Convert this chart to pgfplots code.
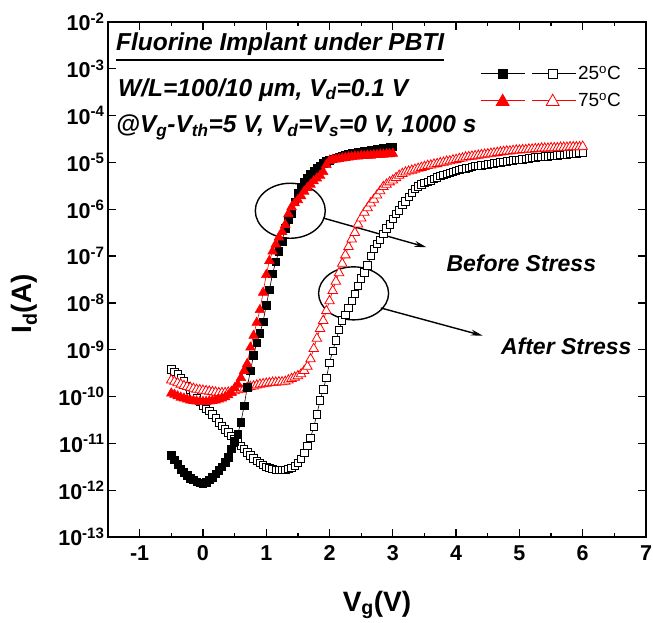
\documentclass[border=0pt]{standalone}
\usepackage{fontspec}
\setmainfont{Liberation Sans}
\usepackage{pgfplots}
\pgfplotsset{compat=1.18}
\usepackage{pgfplotstable}
\usetikzlibrary{arrows.meta}

% Before stress, 25 C (filled squares)
\pgfplotstableread{
x y
-0.5 5.62e-12
-0.45 4.47e-12
-0.4 3.55e-12
-0.35 2.82e-12
-0.3 2.40e-12
-0.25 2.09e-12
-0.2 1.82e-12
-0.15 1.66e-12
-0.1 1.51e-12
-0.05 1.45e-12
0 1.41e-12
0.05 1.48e-12
0.1 1.66e-12
0.15 1.91e-12
0.2 2.24e-12
0.25 2.63e-12
0.3 3.16e-12
0.35 3.98e-12
0.4 5.01e-12
0.45 7.59e-12
0.5 1.12e-11
0.55 1.58e-11
0.6 2.82e-11
0.65 6.31e-11
0.7 1.58e-10
0.75 3.55e-10
0.8 7.59e-10
0.85 1.41e-9
0.9 2.24e-9
0.95 3.98e-9
1.0 8.91e-9
1.05 1.91e-8
1.1 4.17e-8
1.15 7.59e-8
1.2 1.26e-7
1.25 2.09e-7
1.3 3.98e-7
1.35 6.03e-7
1.4 7.94e-7
1.45 1.45e-6
1.5 2.20e-6
1.55 3.00e-6
1.6 3.80e-6
1.65 4.68e-6
1.7 5.62e-6
1.75 6.61e-6
1.8 7.59e-6
1.85 8.51e-6
1.9 9.55e-6
1.95 1.05e-5
2.0 1.12e-5
2.05 1.20e-5
2.1 1.26e-5
2.15 1.32e-5
2.2 1.38e-5
2.25 1.45e-5
2.3 1.51e-5
2.35 1.55e-5
2.4 1.58e-5
2.45 1.66e-5
2.5 1.70e-5
2.55 1.74e-5
2.6 1.78e-5
2.65 1.82e-5
2.7 1.86e-5
2.75 1.91e-5
2.8 1.95e-5
2.85 2.00e-5
2.9 2.04e-5
2.95 2.09e-5
3.0 2.14e-5
}\dataA

% Before stress, 75 C (filled triangles)
\pgfplotstableread{
x y
-0.5 1.17e-10
-0.45 1.10e-10
-0.4 1.02e-10
-0.35 9.55e-11
-0.3 9.12e-11
-0.25 8.71e-11
-0.2 8.32e-11
-0.15 8.13e-11
-0.1 7.94e-11
-0.05 7.76e-11
0 7.76e-11
0.05 7.76e-11
0.1 7.94e-11
0.15 8.13e-11
0.2 8.32e-11
0.25 8.71e-11
0.3 9.12e-11
0.35 9.77e-11
0.4 1.07e-10
0.45 1.20e-10
0.5 1.51e-10
0.55 1.82e-10
0.6 2.51e-10
0.65 3.55e-10
0.7 5.01e-10
0.75 1.12e-9
0.8 2.00e-9
0.85 3.80e-9
0.9 7.08e-9
0.95 1.66e-8
1.0 3.98e-8
1.05 7.94e-8
1.1 1.26e-7
1.15 1.78e-7
1.2 2.51e-7
1.25 3.31e-7
1.3 4.68e-7
1.35 7.94e-7
1.4 1.12e-6
1.45 1.35e-6
1.5 1.58e-6
1.55 1.91e-6
1.6 2.40e-6
1.65 2.88e-6
1.7 3.39e-6
1.75 3.98e-6
1.8 4.57e-6
1.85 5.25e-6
1.9 6.31e-6
1.95 8.91e-6
2.0 1.10e-5
2.05 1.15e-5
2.1 1.17e-5
2.15 1.20e-5
2.2 1.23e-5
2.25 1.26e-5
2.3 1.29e-5
2.35 1.32e-5
2.4 1.35e-5
2.45 1.35e-5
2.5 1.38e-5
2.55 1.38e-5
2.6 1.41e-5
2.65 1.41e-5
2.7 1.45e-5
2.75 1.45e-5
2.8 1.48e-5
2.85 1.48e-5
2.9 1.51e-5
2.95 1.51e-5
3.0 1.55e-5
}\dataB

% After stress, 25 C (open squares)
\pgfplotstableread{
x y
-0.5 3.80e-10
-0.45 3.39e-10
-0.4 2.95e-10
-0.35 2.51e-10
-0.3 2.09e-10
-0.25 1.70e-10
-0.2 1.38e-10
-0.15 1.12e-10
-0.1 9.12e-11
-0.05 7.59e-11
0 6.31e-11
0.05 5.50e-11
0.1 4.90e-11
0.15 4.17e-11
0.2 3.47e-11
0.25 2.82e-11
0.3 2.34e-11
0.35 2.00e-11
0.4 1.70e-11
0.45 1.45e-11
0.5 1.23e-11
0.55 1.05e-11
0.6 8.91e-12
0.65 7.59e-12
0.7 6.46e-12
0.75 5.50e-12
0.8 4.79e-12
0.85 4.27e-12
0.9 3.80e-12
0.95 3.47e-12
1.0 3.16e-12
1.05 2.95e-12
1.1 2.82e-12
1.15 2.69e-12
1.2 2.69e-12
1.25 2.69e-12
1.3 2.75e-12
1.35 2.82e-12
1.4 3.02e-12
1.45 3.31e-12
1.5 3.80e-12
1.55 4.68e-12
1.6 6.31e-12
1.65 8.91e-12
1.7 1.32e-11
1.75 2.24e-11
1.8 4.17e-11
1.85 8.32e-11
1.9 1.41e-10
1.95 2.51e-10
2.0 5.25e-10
2.05 9.55e-10
2.1 1.58e-9
2.15 2.63e-9
2.2 4.27e-9
2.25 5.50e-9
2.3 7.94e-9
2.35 1.10e-8
2.4 1.58e-8
2.45 2.34e-8
2.5 3.31e-8
2.55 4.47e-8
2.6 6.31e-8
2.65 1.00e-7
2.7 1.41e-7
2.75 1.82e-7
2.8 2.19e-7
2.85 3.02e-7
2.9 3.89e-7
2.95 4.79e-7
3.0 6.31e-7
3.05 7.94e-7
3.1 9.55e-7
3.15 1.23e-6
3.2 1.48e-6
3.25 1.82e-6
3.3 2.24e-6
3.35 2.69e-6
3.4 3.09e-6
3.45 3.39e-6
3.5 3.63e-6
3.55 3.89e-6
3.6 4.17e-6
3.65 4.47e-6
3.7 4.79e-6
3.75 5.13e-6
3.8 5.50e-6
3.85 5.75e-6
3.9 6.03e-6
3.95 6.31e-6
4.0 6.61e-6
4.05 6.92e-6
4.1 7.24e-6
4.15 7.41e-6
4.2 7.76e-6
4.25 7.94e-6
4.3 8.32e-6
4.35 8.51e-6
4.4 8.71e-6
4.45 8.91e-6
4.5 9.12e-6
4.55 9.33e-6
4.6 9.55e-6
4.65 9.77e-6
4.7 1.00e-5
4.75 1.02e-5
4.8 1.05e-5
4.85 1.07e-5
4.9 1.10e-5
4.95 1.12e-5
5.0 1.15e-5
5.05 1.17e-5
5.1 1.20e-5
5.15 1.23e-5
5.2 1.26e-5
5.25 1.29e-5
5.3 1.32e-5
5.35 1.32e-5
5.4 1.35e-5
5.45 1.35e-5
5.5 1.38e-5
5.55 1.38e-5
5.6 1.41e-5
5.65 1.45e-5
5.7 1.45e-5
5.75 1.48e-5
5.8 1.51e-5
5.85 1.51e-5
5.9 1.55e-5
5.95 1.58e-5
6.0 1.58e-5
}\dataC

% After stress, 75 C (open triangles)
\pgfplotstableread{
x y
-0.5 2.24e-10
-0.45 2.09e-10
-0.4 1.95e-10
-0.35 1.82e-10
-0.3 1.70e-10
-0.25 1.62e-10
-0.2 1.55e-10
-0.15 1.48e-10
-0.1 1.41e-10
-0.05 1.38e-10
0 1.35e-10
0.05 1.32e-10
0.1 1.29e-10
0.15 1.26e-10
0.2 1.23e-10
0.25 1.20e-10
0.3 1.20e-10
0.35 1.20e-10
0.4 1.23e-10
0.45 1.26e-10
0.5 1.32e-10
0.55 1.38e-10
0.6 1.41e-10
0.65 1.48e-10
0.7 1.55e-10
0.75 1.62e-10
0.8 1.66e-10
0.85 1.74e-10
0.9 1.82e-10
0.95 1.86e-10
1.0 1.91e-10
1.05 1.95e-10
1.1 2.00e-10
1.15 2.00e-10
1.2 2.04e-10
1.25 2.04e-10
1.3 2.09e-10
1.35 2.24e-10
1.4 2.40e-10
1.45 2.57e-10
1.5 2.75e-10
1.55 3.02e-10
1.6 3.55e-10
1.65 4.37e-10
1.7 6.31e-10
1.75 1.05e-9
1.8 1.74e-9
1.85 2.82e-9
1.9 4.17e-9
1.95 6.76e-9
2.0 1.10e-8
2.05 1.82e-8
2.1 2.88e-8
2.15 4.37e-8
2.2 6.92e-8
2.25 1.05e-7
2.3 1.58e-7
2.35 2.29e-7
2.4 3.16e-7
2.45 4.79e-7
2.5 6.46e-7
2.55 8.51e-7
2.6 1.07e-6
2.65 1.35e-6
2.7 1.62e-6
2.75 2.00e-6
2.8 2.45e-6
2.85 3.02e-6
2.9 3.39e-6
2.95 3.80e-6
3.0 4.17e-6
3.05 4.68e-6
3.1 5.25e-6
3.15 5.75e-6
3.2 6.17e-6
3.25 6.46e-6
3.3 6.76e-6
3.35 7.08e-6
3.4 7.41e-6
3.45 7.76e-6
3.5 8.13e-6
3.55 8.51e-6
3.6 8.71e-6
3.65 9.12e-6
3.7 9.33e-6
3.75 9.77e-6
3.8 1.00e-5
3.85 1.05e-5
3.9 1.07e-5
3.95 1.12e-5
4.0 1.15e-5
4.05 1.20e-5
4.1 1.23e-5
4.15 1.29e-5
4.2 1.32e-5
4.25 1.35e-5
4.3 1.38e-5
4.35 1.41e-5
4.4 1.45e-5
4.45 1.48e-5
4.5 1.51e-5
4.55 1.55e-5
4.6 1.58e-5
4.65 1.62e-5
4.7 1.66e-5
4.75 1.70e-5
4.8 1.74e-5
4.85 1.74e-5
4.9 1.78e-5
4.95 1.82e-5
5.0 1.82e-5
5.05 1.86e-5
5.1 1.86e-5
5.15 1.91e-5
5.2 1.91e-5
5.25 1.95e-5
5.3 1.95e-5
5.35 2.00e-5
5.4 2.00e-5
5.45 2.00e-5
5.5 2.04e-5
5.55 2.04e-5
5.6 2.04e-5
5.65 2.09e-5
5.7 2.09e-5
5.75 2.09e-5
5.8 2.14e-5
5.85 2.14e-5
5.9 2.14e-5
5.95 2.14e-5
6.0 2.19e-5
}\dataD

\begin{document}
\begin{tikzpicture}
\begin{axis}[
  width=538pt, height=515pt, scale only axis,
  ymode=log,
  xmin=-1.5, xmax=7, ymin=1e-13, ymax=1e-2,
  xtick={-1,0,1,2,3,4,5,6,7},
  xticklabels={-1,0,1,2,3,4,5,6,7},
  minor x tick num=1,
  ytick={1e-13,1e-12,1e-11,1e-10,1e-9,1e-8,1e-7,1e-6,1e-5,1e-4,1e-3,1e-2},
  yticklabels={10\textsuperscript{-13},10\textsuperscript{-12},10\textsuperscript{-11},10\textsuperscript{-10},10\textsuperscript{-9},10\textsuperscript{-8},10\textsuperscript{-7},10\textsuperscript{-6},10\textsuperscript{-5},10\textsuperscript{-4},10\textsuperscript{-3},10\textsuperscript{-2}},
  yminorticks=false,
  tick align=inside,
  major tick length=8pt, minor tick length=4.5pt,
  every tick/.style={black, line width=1.3pt},
  axis line style={line width=1.6pt},
  tick label style={font=\fontsize{21.5}{25}\selectfont\bfseries},
  xticklabel style={yshift=-5pt},
  xlabel={V\textsubscript{g}(V)},
  ylabel={I\textsubscript{d}(A)},
  label style={font=\fontsize{28}{30}\selectfont\bfseries},
  xlabel style={at={(axis description cs:0.5,-0.1437)}, anchor=base},
  ylabel style={at={(axis description cs:-0.156,0.453)}, anchor=center},
  clip=false,
  legend cell align=left,
  legend style={at={(rel axis cs:0.686,0.922)}, anchor=north west, draw=none, fill=none,
    font=\fontsize{19}{22}\selectfont, row sep=8pt},
]
\coordinate (bl) at (rel axis cs:0,0);
\coordinate (tr) at (rel axis cs:1,1);

\addlegendimage{legend image code/.code={
  \draw[black, line width=0.8pt] (0pt,0pt) -- (44pt,0pt);
  \draw[black, line width=0.8pt] (51pt,0pt) -- (95pt,0pt);
  \draw[black, fill=black, line width=0.8pt] (17.4pt,-4.6pt) rectangle (26.6pt,4.6pt);
  \draw[black, fill=white, line width=0.8pt] (67.4pt,-4.6pt) rectangle (76.6pt,4.6pt);
}}
\addlegendentry{25\textsuperscript{o}C}
\addlegendimage{legend image code/.code={
  \draw[red, line width=0.8pt] (0pt,0pt) -- (44pt,0pt);
  \draw[red, line width=0.8pt] (51pt,0pt) -- (95pt,0pt);
  \draw[red, fill=red, line width=0.8pt] (22pt,6.5pt) -- (15.5pt,-4.8pt) -- (28.5pt,-4.8pt) -- cycle;
  \draw[red, fill=white, line width=0.8pt] (72pt,6.5pt) -- (65.5pt,-4.8pt) -- (78.5pt,-4.8pt) -- cycle;
}}
\addlegendentry{75\textsuperscript{o}C}

\addplot[black, line width=0.6pt, mark=square*, mark size=3.7pt,
  mark options={fill=white, draw=black, line width=0.8pt}, forget plot] table {\dataC};
\addplot[red, line width=0.6pt, mark=triangle*, mark size=5.5pt,
  mark options={fill=white, draw=red, line width=0.8pt}, forget plot] table {\dataD};
\addplot[black, line width=0.6pt, mark=square*, mark size=3.8pt,
  mark options={fill=black, draw=black}, forget plot] table {\dataA};
\addplot[red, line width=0.6pt, mark=triangle*, mark size=5.5pt,
  mark options={fill=red, draw=red}, forget plot] table {\dataB};

\node[anchor=base west, inner sep=0pt, font=\fontsize{24.5}{28}\selectfont\bfseries\itshape]
  (t1) at (axis description cs:0.0149,0.9456) {Fluorine Implant under PBTI};
\draw[line width=2.2pt] ([yshift=-10pt]t1.base west) -- ([yshift=-10pt]t1.base east);
\node[anchor=base west, inner sep=0pt, font=\fontsize{24.5}{28}\selectfont\bfseries\itshape]
  at (axis description cs:0.0186,0.8563) {W/L=100/10 μm, V\textsubscript{d}=0.1 V};
\node[anchor=base west, inner sep=0pt, font=\fontsize{24.5}{28}\selectfont\bfseries\itshape]
  at (axis description cs:0.0149,0.7845) {@V\textsubscript{g}-V\textsubscript{th}=5 V, V\textsubscript{d}=V\textsubscript{s}=0 V, 1000 s};

\draw[line width=1.4pt] (axis cs:1.38,9.3e-7) ellipse (35pt and 27.5pt);
\draw[line width=1.4pt] (axis cs:2.38,1.6e-8) ellipse (35pt and 26.5pt);
\draw[line width=1.4pt, -{Stealth[length=12pt,width=6pt]}] (axis cs:1.90,6.5e-7) -- (axis cs:3.53,1.55e-7);
\draw[line width=1.4pt, -{Stealth[length=12pt,width=6pt]}] (axis cs:2.81,7.8e-9) -- (axis cs:4.42,2.0e-9);

\node[anchor=base, inner sep=0pt, font=\fontsize{23}{26}\selectfont\bfseries\itshape]
  at (axis cs:5.03,4.6e-8) {Before Stress};
\node[anchor=base, inner sep=0pt, font=\fontsize{23}{26}\selectfont\bfseries\itshape]
  at (axis cs:5.74,7.8e-10) {After Stress};
\end{axis}
\pgfresetboundingbox
\path[use as bounding box] ([shift={(-108pt,-85pt)}]bl) rectangle ([shift={(7pt,22pt)}]tr);
\end{tikzpicture}
\end{document}
